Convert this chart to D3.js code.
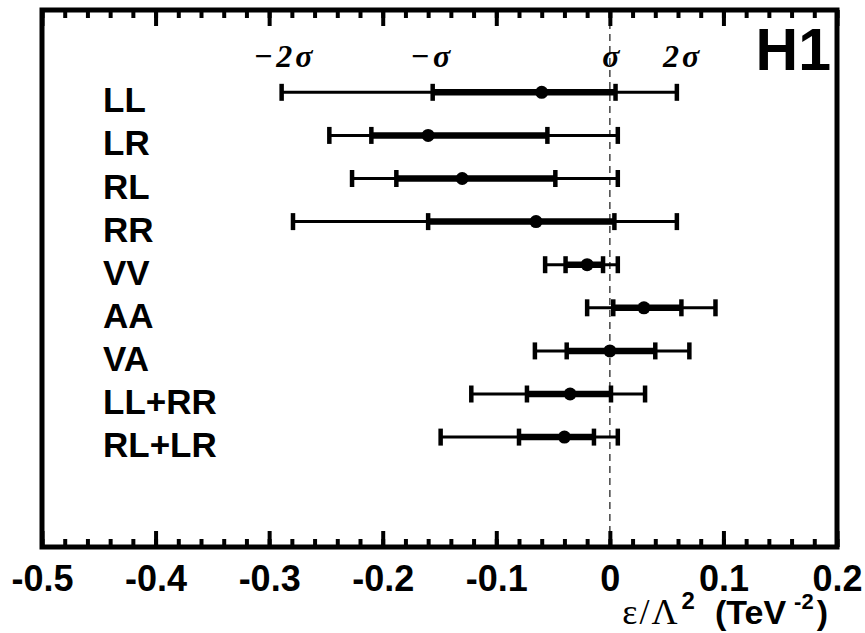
<!DOCTYPE html>
<html><head><meta charset="utf-8">
<script src="https://cdn.jsdelivr.net/npm/d3@7"></script>
<style>html,body{margin:0;padding:0;background:#fff;}svg{display:block;}</style>
</head><body>
<script>
const categories = ["LL","LR","RL","RR","VV","AA","VA","LL+RR","RL+LR"];
const central  = [-0.060, -0.160, -0.130, -0.065, -0.020, 0.030, 0.000, -0.035, -0.040];
const inner_lo = [-0.156, -0.210, -0.188, -0.160, -0.039, 0.003, -0.038, -0.073, -0.080];
const inner_hi = [ 0.005, -0.055, -0.048,  0.004, -0.006, 0.063,  0.040,  0.001, -0.014];
const outer_lo = [-0.289, -0.247, -0.227, -0.279, -0.057, -0.020, -0.066, -0.122, -0.149];
const outer_hi = [ 0.059,  0.007,  0.007,  0.059,  0.007, 0.093,  0.070,  0.031,  0.007];
const sigmaLabels = ["\u22122\u03c3", "\u2212\u03c3", "\u03c3", "2\u03c3"];
const sigmaPos = [-0.2864, -0.1567, 0.0022, 0.064];
const majorTicks = [-0.5,-0.4,-0.3,-0.2,-0.1,0,0.1,0.2];
const xDomain = [-0.5, 0.2];

(function(){
const W = 865, H = 633;
const pL = 42, pR = 837, pT = 10, pB = 547;
const svg = d3.select("body").append("svg").attr("width", W).attr("height", H);
const x = d3.scaleLinear().domain(xDomain).range([pL, pR]);
const y = d3.scaleLinear().domain([-1.91, 10.55]).range([pT, pB]);
const sans = "'Liberation Sans', Arial, Helvetica, sans-serif";
const serif = "'Liberation Serif', 'Times New Roman', serif";

const minorTicks = d3.range(0, 36).map(i => +(-0.5 + i*0.02).toFixed(2));

// dashed zero line
svg.append("line").attr("x1", x(0)).attr("x2", x(0)).attr("y1", pT).attr("y2", pB)
  .attr("stroke", "#444").attr("stroke-width", 1.5).attr("stroke-dasharray", "7,5");

// axes
const fmt = d => d === 0 ? "0" : d.toFixed(1);
const gB = svg.append("g").attr("transform", `translate(0,${pB})`);
gB.call(d3.axisBottom(x).tickValues(minorTicks).tickSize(-8).tickFormat("").tickSizeOuter(0));
const gBM = svg.append("g").attr("transform", `translate(0,${pB})`);
gBM.call(d3.axisBottom(x).tickValues(majorTicks).tickSize(-16).tickPadding(18).tickFormat(fmt).tickSizeOuter(0));
const gT = svg.append("g").attr("transform", `translate(0,${pT})`);
gT.call(d3.axisTop(x).tickValues(minorTicks).tickSize(-8).tickFormat("").tickSizeOuter(0));
const gTM = svg.append("g").attr("transform", `translate(0,${pT})`);
gTM.call(d3.axisTop(x).tickValues(majorTicks).tickSize(-16).tickFormat("").tickSizeOuter(0));
svg.selectAll(".domain").remove();
svg.selectAll(".tick line").attr("stroke", "#000").attr("stroke-width", 4);
gBM.selectAll(".tick text").attr("font-family", sans).attr("font-weight", "bold")
  .attr("font-size", 36).attr("fill", "#000");

// frame
svg.append("rect").attr("x", pL).attr("y", pT).attr("width", pR-pL).attr("height", pB-pT)
  .attr("fill", "none").attr("stroke", "#000").attr("stroke-width", 5);

// rows
const rows = svg.append("g");
categories.forEach((c, i) => {
  const yy = y(i);
  const g = rows.append("g");
  g.append("line").attr("x1", x(outer_lo[i])).attr("x2", x(outer_hi[i])).attr("y1", yy).attr("y2", yy)
    .attr("stroke", "#000").attr("stroke-width", 3);
  g.append("line").attr("x1", x(inner_lo[i])).attr("x2", x(inner_hi[i])).attr("y1", yy).attr("y2", yy)
    .attr("stroke", "#000").attr("stroke-width", 6.5);
  [outer_lo[i], inner_lo[i], inner_hi[i], outer_hi[i]].forEach(v => {
    g.append("line").attr("x1", x(v)).attr("x2", x(v)).attr("y1", yy-8.5).attr("y2", yy+8.5)
      .attr("stroke", "#000").attr("stroke-width", 4.5);
  });
  g.append("circle").attr("cx", x(central[i])).attr("cy", yy).attr("r", 6.5).attr("fill", "#000");
  svg.append("text").attr("x", 103).attr("y", yy + 20).text(c)
    .attr("font-family", sans).attr("font-weight", "bold").attr("font-size", 35).attr("fill", "#000");
});

// sigma labels
sigmaLabels.forEach((s, i) => {
  svg.append("text").attr("x", x(sigmaPos[i])).attr("y", 67).attr("text-anchor", "middle")
    .attr("font-family", serif).attr("font-style", "italic").attr("font-weight", "bold")
    .attr("font-size", 32).attr("letter-spacing", 3).attr("fill", "#000").text(s);
});

// H1
svg.append("text").attr("x", 831).attr("y", 70).attr("text-anchor", "end")
  .attr("font-family", sans).attr("font-weight", "bold").attr("font-size", 59).text("H1");

// x title
const t = svg.append("text").attr("x", 828).attr("y", 624).attr("text-anchor", "end").attr("fill", "#000");
t.append("tspan").attr("font-family", serif).attr("font-size", 36).attr("letter-spacing", 2).text("\u03b5/\u039b");
t.append("tspan").attr("font-family", sans).attr("font-weight", "bold").attr("font-size", 24).attr("dx", 2).attr("dy", -15).text("2");
t.append("tspan").attr("font-family", sans).attr("font-weight", "bold").attr("font-size", 34).attr("dx", 20).attr("dy", 15).text("(TeV");
t.append("tspan").attr("font-family", sans).attr("font-weight", "bold").attr("font-size", 22).attr("dx", 8).attr("dy", -15).text("-2");
t.append("tspan").attr("font-family", sans).attr("font-weight", "bold").attr("font-size", 34).attr("dx", 3).attr("dy", 15).text(")");
})();
</script>
</body></html>
